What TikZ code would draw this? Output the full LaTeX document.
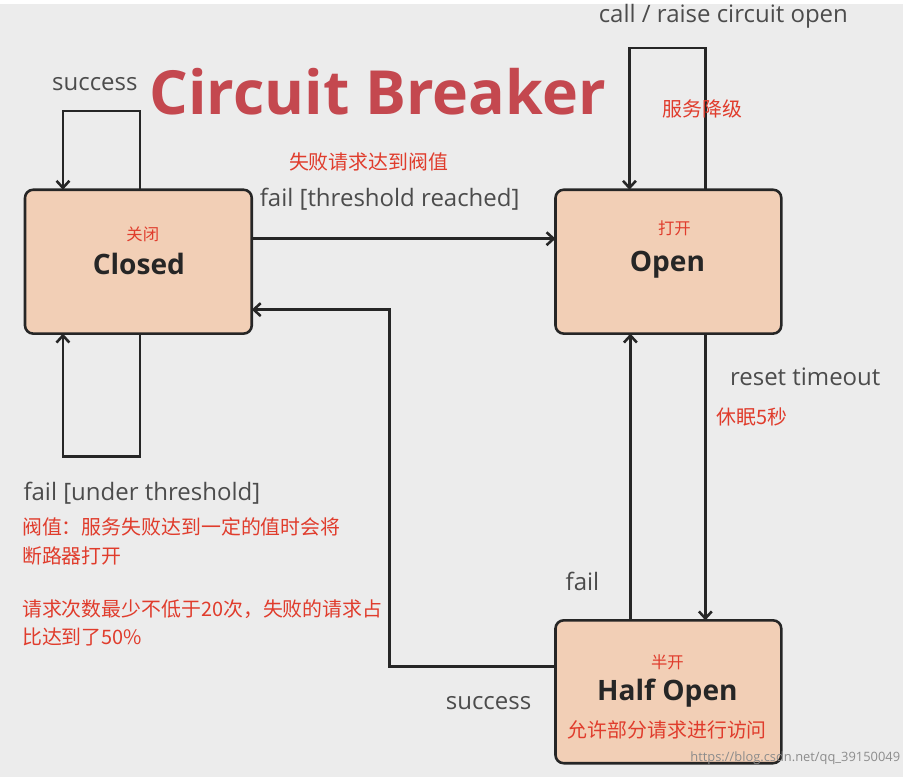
\documentclass[tikz,border=0pt]{standalone}
\usepackage{fontspec}
\setmainfont{Open Sans}
\newfontfamily\cjk{Noto Sans CJK SC}
\usetikzlibrary{arrows.meta,positioning}
\definecolor{bgc}{HTML}{ECECEC}
\definecolor{boxc}{HTML}{F2CFB6}
\definecolor{notec}{HTML}{E03C2C}
\definecolor{titlec}{HTML}{C4484F}
\tikzstyle{state}=[draw=black!85,line width=2.2pt,rounded corners=7pt,fill=boxc]
\tikzstyle{state name}=[font=\bfseries\fontsize{24}{28}\selectfont,text=black!85]
\tikzstyle{lab}=[font=\fontsize{20.5}{24}\selectfont,text=black!70]
\tikzstyle{note}=[font=\cjk\fontsize{17}{24}\selectfont,text=notec,align=left]
\tikzstyle{small note}=[font=\cjk\fontsize{14}{16}\selectfont,text=notec]
\tikzstyle{flow}=[line width=2.2pt,draw=black!85,-{Straight Barb[length=6pt,width=11pt]}]

\begin{document}
\begin{tikzpicture}[x=0.03cm,y=-0.03cm]
  \fill[bgc] (0,0) rectangle (904,774);

  % states
  \draw[state] (25,186) rectangle (252,330);
  \draw[state] (556,186) rectangle (782,330);
  \draw[state] (556,617) rectangle (782,760);
  \node(closed) at (139,260) [state name]{Closed};
  \node at (143,231) [small note]{关闭};
  \node(open) at (668,261) [state name]{Open};
  \node at (675,225) [small note]{打开};
  \node(half) at (668,690) [state name]{Half Open};
  \node at (668,659) [small note]{半开};
  \node at (668,727) [note]{允许部分请求进行访问};

  \coordinate (c1) at (140,330); \coordinate (c2) at (63,330);
  \coordinate (c3) at (140,186); \coordinate (c4) at (63,186);
  \coordinate (o1) at (706,186); \coordinate (o2) at (630,186);
  \coordinate (o3) at (706,330); \coordinate (o4) at (631,330);
  \coordinate (h1) at (706,617); \coordinate (h2) at (631,617);
  \coordinate (h3) at (556,663); \coordinate (cr) at (252,306);

  % connectors
  \draw[flow] (c3) -- (140,107) -- (63,107) -- (c4);
  \draw[flow] (c1) -- (140,453) -- (63,453) -- (c2);
  \draw[flow] (252,235) -- (556,235);
  \draw[flow] (o1) -- (706,44) -- (630,44) -- (o2);
  \draw[flow] (o3) -- (h1);
  \draw[flow] (h2) -- (o4);
  \draw[flow] (h3) -- (390,663) -- (390,306) -- (cr);

  % labels
  \node at (378,88) [font=\bfseries\fontsize{52}{56}\selectfont,text=titlec]{Circuit Breaker};
  \node at (95,80) [lab]{success};
  \node at (142,490) [lab]{fail [under threshold]};
  \node at (369,158) [note]{失败请求达到阀值};
  \node at (390,195) [lab]{fail [threshold reached]};
  \node at (724,12) [lab]{call / raise circuit open};
  \node at (703,105) [note]{服务降级};
  \node at (806,373) [lab]{reset timeout};
  \node at (753,413) [note]{休眠5秒};
  \node at (583,578) [lab]{fail};
  \node at (489,700) [lab]{success};
  \node[note,anchor=west] at (18,538) {阀值：服务失败达到一定的值时会将\\断路器打开};
  \node[note,anchor=west] at (18,620) {请求次数最少不低于20次，失败的请求占\\比达到了50\%};
  \node at (796,755) [font=\fontsize{11}{12}\selectfont,text=black!45]{https://blog.csdn.net/qq\_39150049};
\end{tikzpicture}
\end{document}
